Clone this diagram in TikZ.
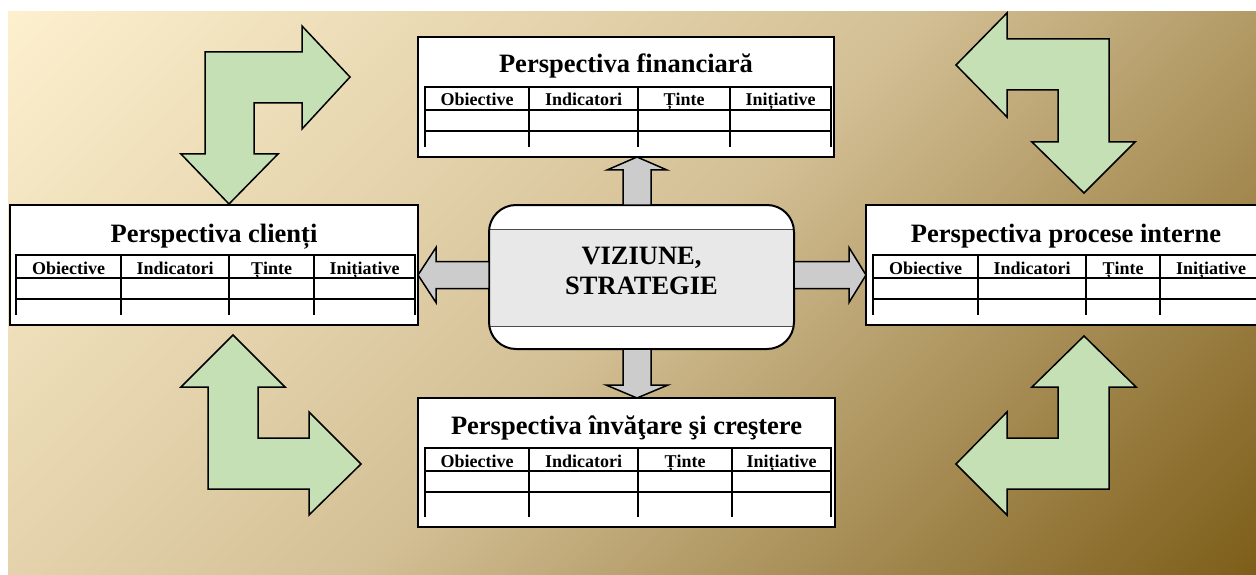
\documentclass[tikz,border=0pt]{standalone}
\usepackage{fontspec}
\setmainfont{Liberation Serif}
\usetikzlibrary{calc}
\definecolor{fundA}{RGB}{253,240,206}
\definecolor{fundB}{RGB}{212,192,150}
\definecolor{fundC}{RGB}{125,94,25}
\definecolor{verde}{RGB}{197,224,180}
\pgfdeclareverticalshading{fundal}{100bp}{color(0bp)=(fundC); color(14.6bp)=(fundC); color(50bp)=(fundB); color(85.4bp)=(fundA); color(100bp)=(fundA)}
\tikzset{
    % cutiile perspectivelor
    persbox/.style={draw=black,line width=2pt,fill=white,anchor=north west,inner sep=0pt,outer sep=0pt},
    tabline/.style={line width=2pt},
    titlu/.style={font=\fontsize{26.5}{30}\selectfont\bfseries,anchor=base,inner sep=0pt},
    antet/.style={font=\fontsize{18}{20}\selectfont\bfseries,anchor=base,inner sep=0pt},
    % sageti
    sageverde/.style={draw=black,line width=1.5pt,fill=verde,line join=miter},
    sagegri/.style={draw=black,line width=1.5pt,fill=gray!40,line join=miter},
    vizbox/.style={fill=white,minimum width=305,minimum height=144,rounded corners=27pt,inner sep=0pt,outer sep=0pt},
}

\begin{document}
\begin{tikzpicture}[x=1pt,y=-1pt]
    \useasboundingbox (0,0) rectangle (1256,575);
    \fill[white] (0,0) rectangle (1256,575);
    \shade[shading=fundal,shading angle=45] (8,12) rectangle (1256,575);
    % sagetile verzi din colturi
    \draw[sageverde] (205,52) -- (302,52) -- (302,26) -- (350,77) -- (302,129) -- (302,103) -- (254,103) -- (254,154) -- (278,154) -- (229,204) -- (181,154) -- (205,154) -- cycle;
    \draw[sageverde] (1109,39) -- (1007,39) -- (1007,13) -- (956,65) -- (1007,117) -- (1007,90) -- (1058,90) -- (1058,142) -- (1032,142) -- (1084,193) -- (1135,142) -- (1109,142) -- cycle;
    \draw[sageverde] (208,489) -- (208,387) -- (181,387) -- (233,335) -- (285,387) -- (258,387) -- (258,438) -- (309,438) -- (309,412) -- (361,464) -- (309,515) -- (309,489) -- cycle;
    \draw[sageverde] (1109,489) -- (1109,387) -- (1136,387) -- (1084,336) -- (1032,387) -- (1058,387) -- (1058,438) -- (1007,438) -- (1007,412) -- (956,464) -- (1007,515) -- (1007,489) -- cycle;
    % perspectivele
    \node[persbox,minimum width=416,minimum height=120] (fin) at (418,37) {};
    \node[persbox,minimum width=408,minimum height=120] (cli) at (10,205) {};
    \node[persbox,minimum width=400,minimum height=120] (proc) at (866,205) {};
    \node[persbox,minimum width=417,minimum height=129] (inv) at (418,398) {};
    \node[titlu] (fin-t) at ([yshift=-36pt]fin.north) {Perspectiva financiară};
    \node[titlu] (cli-t) at ([yshift=-37pt]cli.north) {Perspectiva clienți};
    \node[titlu] (proc-t) at ([yshift=-37pt]proc.north) {Perspectiva procese interne};
    \node[titlu] (inv-t) at ([yshift=-36pt]inv.north) {Perspectiva învăţare şi creştere};
    \foreach \bx/\ca/\cb/\cc/\cd/\ce/\ye in {fin/7/111/220/312/413/110,cli/6/111/219/304/405/110,proc/7/112/220/294/396/110,inv/7/111/220/314/413/119}{
        \begin{scope}[shift={(\bx.north west)}]
            \draw[tabline] (\ca,\ye) -- (\ca,50) -- (\ce,50) -- (\ce,\ye);
            \draw[tabline] (\ca,73) -- (\ce,73) (\ca,94) -- (\ce,94);
            \foreach \cx in {\cb,\cc,\cd}
            \draw[tabline] (\cx,50) -- (\cx,\ye);
            \node[antet] (\bx-h1) at ({(\ca+\cb)/2},69) {Obiective};
            \node[antet] (\bx-h2) at ({(\cb+\cc)/2},69) {Indicatori};
            \node[antet] (\bx-h3) at ({(\cc+\cd)/2},69) {Ținte};
            \node[antet] (\bx-h4) at ({(\cd+\ce)/2},69) {Inițiative};
        \end{scope}
    }
    % viziune, strategie
    \node[vizbox] (vis) at (641.5,277) {};
    \begin{scope}
        \clip[rounded corners=27pt] (vis.north west) rectangle (vis.south east);
        \fill[gray!18] ([yshift=-24pt]vis.north west) rectangle ([yshift=23pt]vis.south east);
    \end{scope}
    \draw[line width=1pt,black!70] ([yshift=-24pt]vis.north west) -- ([yshift=-24pt]vis.north east)
        ([yshift=23pt]vis.south west) -- ([yshift=23pt]vis.south east);
    \draw[line width=2pt,rounded corners=27pt] (vis.north west) rectangle (vis.south east);
    \node[titlu,anchor=center,align=center] (vis-t) at ([yshift=6pt]vis.center) {VIZIUNE,\\STRATEGIE};
    % sagetile gri
    \coordinate (ax) at (637,0);
    \coordinate (ay) at (0,275);
    \coordinate (sus) at (fin.south -| ax);
    \coordinate (jos) at (inv.north -| ax);
    \coordinate (st) at (cli.east |- ay);
    \coordinate (dr) at (proc.west |- ay);
    \draw[sagegri] ($(vis.north -| ax)+(-14,0)$) |- ($(sus)+(-30,13)$) -- (sus) -- ($(sus)+(30,13)$) -| ($(vis.north -| ax)+(14,0)$) -- cycle;
    \draw[sagegri] ($(vis.south -| ax)+(-14,0)$) |- ($(jos)+(-31,-13)$) -- (jos) -- ($(jos)+(31,-13)$) -| ($(vis.south -| ax)+(14,0)$) -- cycle;
    \draw[sagegri] ($(vis.west |- ay)+(0,-13.5)$) -| ($(st)+(18,-27.5)$) -- (st) -- ($(st)+(18,27.5)$) |- ($(vis.west |- ay)+(0,13.5)$) -- cycle;
    \draw[sagegri] ($(vis.east |- ay)+(0,-13.5)$) -| ($(dr)+(-17,-27.5)$) -- (dr) -- ($(dr)+(-17,27.5)$) |- ($(vis.east |- ay)+(0,13.5)$) -- cycle;
\end{tikzpicture}
\end{document}
